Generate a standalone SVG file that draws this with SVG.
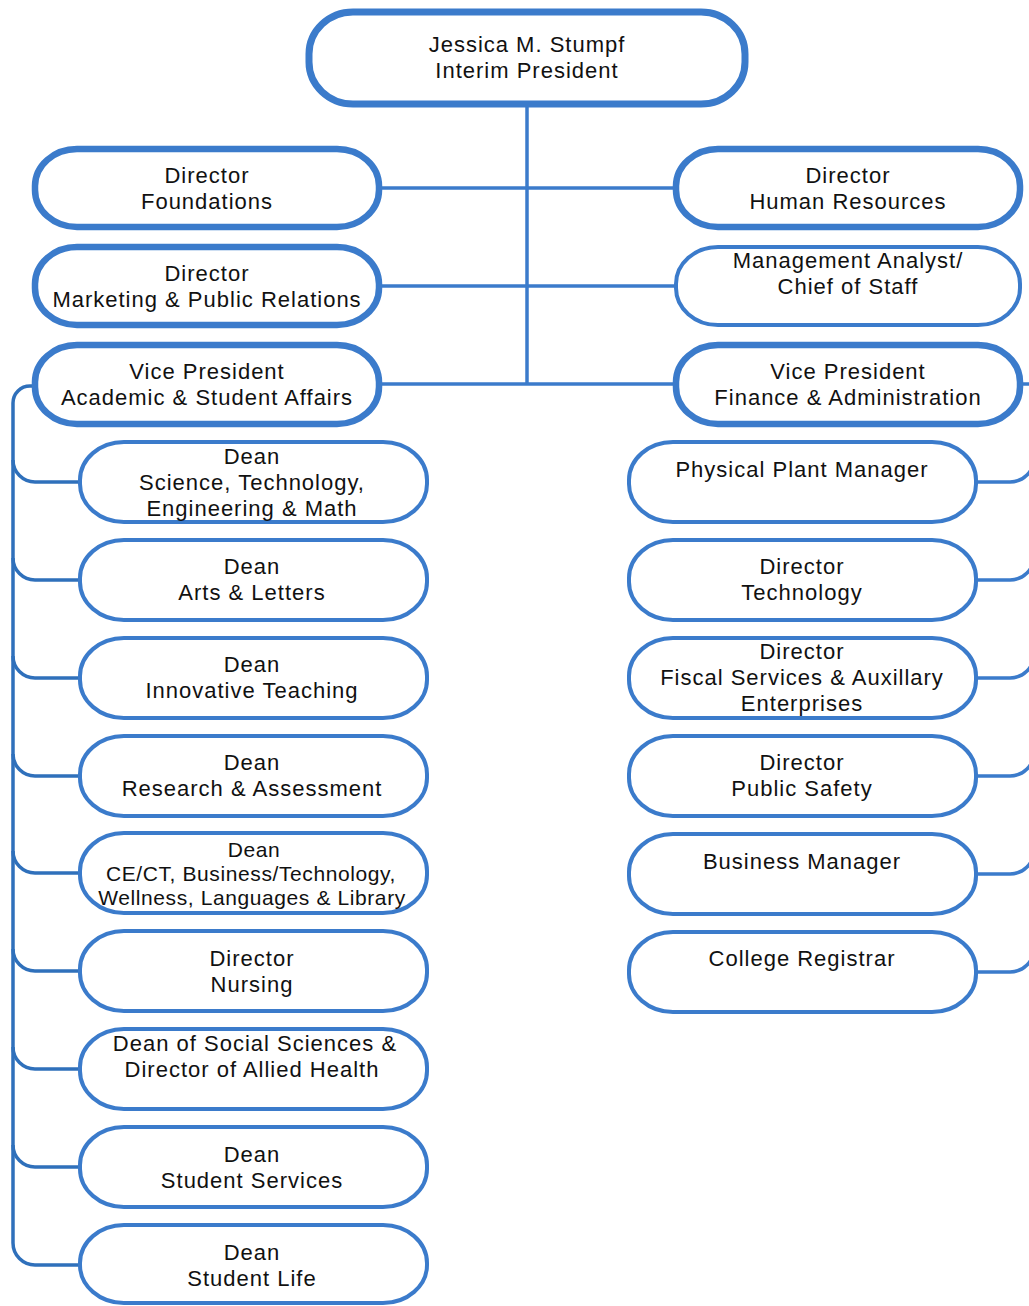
<svg xmlns="http://www.w3.org/2000/svg" width="1029" height="1306" viewBox="0 0 1029 1306">
<style>
.n{fill:#fff;stroke:#3b7bcb}
.thick{stroke-width:6.5}
.thin{stroke-width:4}
.c{fill:none;stroke:#3b7bcb;stroke-width:3.5}
.sp{fill:none;stroke:#2f70bb;stroke-width:3.5}
text{font-family:"Liberation Sans",Arial,sans-serif;font-size:22px;letter-spacing:1px;fill:#111;text-anchor:middle}
.sm{font-size:21px;letter-spacing:0.6px}
</style>
<rect width="1029" height="1306" fill="#fff"/>
<g id="connectors">
<path class="c" d="M527,104 V384"/>
<path class="c" d="M379,188 H676"/>
<path class="c" d="M379,286 H676"/>
<path class="c" d="M379,384 H676"/>
<path class="sp" d="M35,386 H30 A17,17 0 0 0 13,403 V1243 A22,22 0 0 0 35,1265 H80"/>
<path class="sp" d="M13,460 A22,22 0 0 0 35,482 H80"/>
<path class="sp" d="M13,558 A22,22 0 0 0 35,580 H80"/>
<path class="sp" d="M13,656 A22,22 0 0 0 35,678 H80"/>
<path class="sp" d="M13,754 A22,22 0 0 0 35,776 H80"/>
<path class="sp" d="M13,851 A22,22 0 0 0 35,873 H80"/>
<path class="sp" d="M13,949 A22,22 0 0 0 35,971 H80"/>
<path class="sp" d="M13,1047 A22,22 0 0 0 35,1069 H80"/>
<path class="sp" d="M13,1145 A22,22 0 0 0 35,1167 H80"/>
<path class="c" d="M1020,384 H1040"/>
<path class="c" d="M1034,384 V950"/>
<path class="c" d="M976,482 H1010 A24,24 0 0 0 1034,458"/>
<path class="c" d="M976,580 H1010 A24,24 0 0 0 1034,556"/>
<path class="c" d="M976,678 H1010 A24,24 0 0 0 1034,654"/>
<path class="c" d="M976,776 H1010 A24,24 0 0 0 1034,752"/>
<path class="c" d="M976,874 H1010 A24,24 0 0 0 1034,850"/>
<path class="c" d="M976,972 H1010 A24,24 0 0 0 1034,948"/>
</g>
<g id="president"><rect class="n" x="309" y="12" width="436" height="92" rx="44" ry="42" stroke-width="7"/><text x="527" y="52">Jessica M. Stumpf</text><text x="527" y="78">Interim President</text></g>
<g id="dir-foundations"><rect class="n thick" x="35" y="149" width="344" height="78" rx="42" ry="37"/><text x="207" y="183">Director</text><text x="207" y="209">Foundations</text></g>
<g id="dir-marketing"><rect class="n thick" x="35" y="247" width="344" height="78" rx="42" ry="37"/><text x="207" y="281">Director</text><text x="207" y="307">Marketing &amp; Public Relations</text></g>
<g id="vp-academic"><rect class="n thick" x="35" y="345" width="344" height="79" rx="42" ry="37"/><text x="207" y="379">Vice President</text><text x="207" y="405">Academic &amp; Student Affairs</text></g>
<g id="dir-hr"><rect class="n thick" x="676" y="149" width="344" height="78" rx="42" ry="37"/><text x="848" y="183">Director</text><text x="848" y="209">Human Resources</text></g>
<g id="mgmt-analyst"><rect class="n thin" x="676" y="247" width="344" height="78" rx="42" ry="37"/><text x="848" y="268">Management Analyst/</text><text x="848" y="294">Chief of Staff</text></g>
<g id="vp-finance"><rect class="n thick" x="676" y="345" width="344" height="79" rx="42" ry="37"/><text x="848" y="379">Vice President</text><text x="848" y="405">Finance &amp; Administration</text></g>
<g id="dean-stem"><rect class="n thin" x="80" y="442" width="347" height="80" rx="44" ry="38"/><text x="252" y="464">Dean</text><text x="252" y="490">Science, Technology,</text><text x="252" y="516">Engineering &amp; Math</text></g>
<g id="dean-arts"><rect class="n thin" x="80" y="540" width="347" height="80" rx="44" ry="38"/><text x="252" y="574">Dean</text><text x="252" y="600">Arts &amp; Letters</text></g>
<g id="dean-innovative"><rect class="n thin" x="80" y="638" width="347" height="80" rx="44" ry="38"/><text x="252" y="672">Dean</text><text x="252" y="698">Innovative Teaching</text></g>
<g id="dean-research"><rect class="n thin" x="80" y="736" width="347" height="80" rx="44" ry="38"/><text x="252" y="770">Dean</text><text x="252" y="796">Research &amp; Assessment</text></g>
<g id="dean-cect"><rect class="n thin" x="80" y="833" width="347" height="80" rx="44" ry="38"/><text class="sm" x="254" y="857">Dean</text><text class="sm" x="251" y="881">CE/CT, Business/Technology,</text><text class="sm" x="252" y="905">Wellness, Languages &amp; Library</text></g>
<g id="dir-nursing"><rect class="n thin" x="80" y="931" width="347" height="80" rx="44" ry="38"/><text x="252" y="966">Director</text><text x="252" y="992">Nursing</text></g>
<g id="dean-social"><rect class="n thin" x="80" y="1029" width="347" height="80" rx="44" ry="38"/><text x="255" y="1051">Dean of Social Sciences &amp;</text><text x="252" y="1077">Director of Allied Health</text></g>
<g id="dean-services"><rect class="n thin" x="80" y="1127" width="347" height="80" rx="44" ry="38"/><text x="252" y="1162">Dean</text><text x="252" y="1188">Student Services</text></g>
<g id="dean-life"><rect class="n thin" x="80" y="1225" width="347" height="78" rx="44" ry="38"/><text x="252" y="1260">Dean</text><text x="252" y="1286">Student Life</text></g>
<g id="physical-plant"><rect class="n thin" x="629" y="442" width="347" height="80" rx="44" ry="38"/><text x="802" y="477">Physical Plant Manager</text></g>
<g id="dir-technology"><rect class="n thin" x="629" y="540" width="347" height="80" rx="44" ry="38"/><text x="802" y="574">Director</text><text x="802" y="600">Technology</text></g>
<g id="dir-fiscal"><rect class="n thin" x="629" y="638" width="347" height="80" rx="44" ry="38"/><text x="802" y="659">Director</text><text x="802" y="685">Fiscal Services &amp; Auxillary</text><text x="802" y="711">Enterprises</text></g>
<g id="dir-safety"><rect class="n thin" x="629" y="736" width="347" height="80" rx="44" ry="38"/><text x="802" y="770">Director</text><text x="802" y="796">Public Safety</text></g>
<g id="business-manager"><rect class="n thin" x="629" y="834" width="347" height="80" rx="44" ry="38"/><text x="802" y="869">Business Manager</text></g>
<g id="registrar"><rect class="n thin" x="629" y="932" width="347" height="80" rx="44" ry="38"/><text x="802" y="966">College Registrar</text></g>
</svg>
